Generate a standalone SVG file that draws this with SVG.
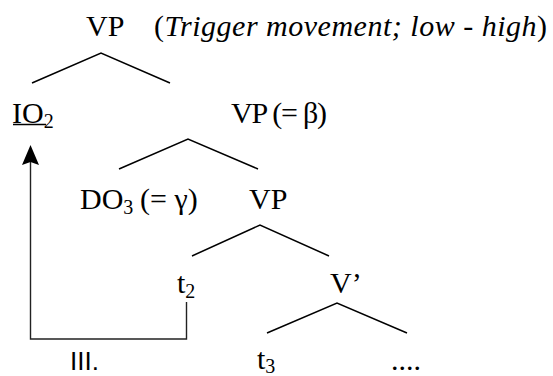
<svg xmlns="http://www.w3.org/2000/svg" width="553" height="376" viewBox="0 0 553 376">
<defs>
<style>
text{font-family:'Liberation Serif','Times New Roman',Times,serif;font-size:30px;fill:#000}
.s{font-size:20px}
.i{font-style:italic}
text.sans{font-family:'Liberation Sans',Arial,sans-serif;font-size:26px}
.br{fill:none;stroke:#000;stroke-width:1.5}
.mv{fill:none;stroke:#222;stroke-width:1.4}
</style>
</defs>
<rect width="553" height="376" fill="#fff"/>
<g id="connectors">
<polyline class="br" points="32,83 101,53 170,83"/>
<polyline class="br" points="119,169 188,139 258,169"/>
<polyline class="br" points="192,256 260,225 329,256"/>
<polyline class="br" points="267,333 337,303 407,333"/>
<path class="mv" d="M186.5,302 V339 H30.5 V162"/>
<path d="M30.5,145 L39,165 L30.5,162 L22,165 Z" fill="#000"/>
</g>
<g id="vp-top"><text x="86" y="36">VP</text></g>
<g id="note"><text x="154" y="36" font-size="31" textLength="393" lengthAdjust="spacing">(<tspan class="i">Trigger movement; low - high</tspan>)</text></g>
<g id="io2"><text x="12" y="123">IO<tspan class="s" dy="5">2</tspan></text>
<line x1="13" y1="124.5" x2="46" y2="124.5" stroke="#000" stroke-width="1.6"/></g>
<g id="vp-beta"><text x="231" y="123" textLength="96" lengthAdjust="spacing">VP (= β)</text></g>
<g id="do3"><text x="80" y="209">DO<tspan class="s" dy="5">3</tspan><tspan dy="-5" x="140">(= γ)</tspan></text></g>
<g id="vp-mid"><text x="249" y="209">VP</text></g>
<g id="t2"><text x="177" y="293">t<tspan class="s" dy="5">2</tspan></text></g>
<g id="vbar"><text x="330" y="293">V’</text></g>
<g id="label-iii"><text class="sans" x="70" y="370">III.</text></g>
<g id="t3"><text x="257" y="369">t<tspan class="s" dy="4">3</tspan></text></g>
<g id="dots"><text x="391" y="370">....</text></g>
</svg>
